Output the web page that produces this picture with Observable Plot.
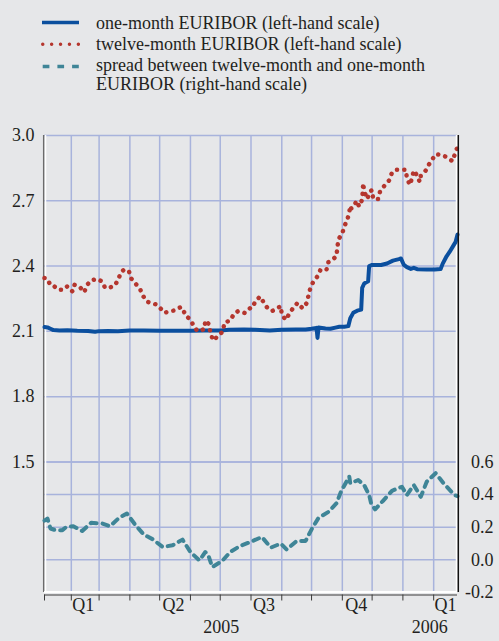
<!DOCTYPE html>
<html><head><meta charset="utf-8">
<script src="https://cdn.jsdelivr.net/npm/d3@7"></script>
<script src="https://cdn.jsdelivr.net/npm/@observablehq/plot@0.6"></script>
<style>
html,body{margin:0;padding:0;background:#e6e7e9;}
#chart{width:499px;height:641px;overflow:hidden;font-family:"Liberation Serif","Times New Roman","DejaVu Serif",serif;color:#231f20;}
svg{display:block;}
svg text{font-family:"Liberation Serif","Times New Roman","DejaVu Serif",serif !important;}
</style></head><body><div id="chart"></div>
<script>
// ---- data ----
const oneMonthDates = ["2005-01-05","2005-01-08","2005-01-11","2005-01-14","2005-01-20","2005-01-28","2005-02-07","2005-02-18","2005-02-25","2005-03-01","2005-03-10","2005-03-20","2005-04-01","2005-04-15","2005-05-01","2005-05-15","2005-06-01","2005-06-15","2005-07-01","2005-07-10","2005-07-25","2005-08-05","2005-08-20","2005-09-01","2005-09-15","2005-09-25","2005-10-01","2005-10-06","2005-10-07","2005-10-08","2005-10-15","2005-10-20","2005-10-25","2005-10-29","2005-11-03","2005-11-07","2005-11-09","2005-11-12","2005-11-16","2005-11-20","2005-11-21","2005-11-23","2005-11-27","2005-11-28","2005-12-01","2005-12-10","2005-12-16","2005-12-22","2005-12-28","2005-12-30","2006-01-02","2006-01-05","2006-01-09","2006-01-12","2006-01-16","2006-01-25","2006-02-02","2006-02-08","2006-02-10","2006-02-14","2006-02-17","2006-02-21","2006-02-23","2006-02-25"];
const oneMonthValues = [2.12,2.118,2.112,2.106,2.104,2.105,2.103,2.102,2.098,2.101,2.102,2.101,2.104,2.104,2.103,2.103,2.103,2.104,2.104,2.107,2.108,2.107,2.104,2.107,2.108,2.109,2.112,2.116,2.07,2.118,2.113,2.112,2.117,2.121,2.121,2.124,2.16,2.185,2.195,2.2,2.3,2.32,2.33,2.4,2.405,2.405,2.412,2.425,2.432,2.435,2.405,2.395,2.387,2.392,2.385,2.384,2.384,2.386,2.41,2.445,2.465,2.495,2.51,2.545];

const twelveMonthDates = ["2005-01-05","2005-01-07","2005-01-11","2005-01-13","2005-01-15","2005-01-19","2005-01-24","2005-01-28","2005-02-02","2005-02-04","2005-02-09","2005-02-14","2005-02-17","2005-02-21","2005-02-27","2005-03-04","2005-03-07","2005-03-10","2005-03-16","2005-03-20","2005-03-23","2005-03-26","2005-03-31","2005-04-02","2005-04-06","2005-04-11","2005-04-14","2005-04-18","2005-04-22","2005-04-28","2005-05-03","2005-05-06","2005-05-11","2005-05-16","2005-05-22","2005-05-24","2005-05-27","2005-06-01","2005-06-04","2005-06-08","2005-06-15","2005-06-16","2005-06-20","2005-06-21","2005-06-24","2005-06-29","2005-07-04","2005-07-05","2005-07-11","2005-07-15","2005-07-19","2005-07-26","2005-07-31","2005-08-02","2005-08-05","2005-08-10","2005-08-13","2005-08-17","2005-08-22","2005-08-27","2005-08-31","2005-09-01","2005-09-05","2005-09-09","2005-09-13","2005-09-17","2005-09-22","2005-09-26","2005-09-28","2005-09-30","2005-10-03","2005-10-07","2005-10-10","2005-10-16","2005-10-18","2005-10-22","2005-10-26","2005-10-27","2005-10-28","2005-11-01","2005-11-03","2005-11-06","2005-11-08","2005-11-09","2005-11-10","2005-11-13","2005-11-15","2005-11-18","2005-11-21","2005-11-22","2005-11-23","2005-11-26","2005-11-29","2005-12-01","2005-12-02","2005-12-07","2005-12-09","2005-12-13","2005-12-18","2005-12-21","2005-12-25","2006-01-01","2006-01-04","2006-01-05","2006-01-08","2006-01-10","2006-01-12","2006-01-15","2006-01-18","2006-01-19","2006-01-24","2006-01-27","2006-01-31","2006-02-03","2006-02-10","2006-02-15","2006-02-20","2006-02-22","2006-02-25"];
const twelveMonthValues = [2.345,2.344,2.314,2.314,2.306,2.291,2.291,2.307,2.284,2.314,2.307,2.28,2.314,2.334,2.341,2.329,2.3,2.3,2.307,2.334,2.372,2.383,2.378,2.345,2.323,2.297,2.265,2.237,2.231,2.223,2.2,2.185,2.193,2.196,2.211,2.208,2.173,2.154,2.127,2.101,2.11,2.15,2.131,2.093,2.058,2.08,2.101,2.139,2.15,2.181,2.193,2.184,2.206,2.206,2.234,2.26,2.239,2.211,2.193,2.204,2.216,2.177,2.153,2.184,2.211,2.231,2.206,2.229,2.266,2.303,2.33,2.353,2.383,2.383,2.418,2.429,2.445,2.484,2.522,2.551,2.583,2.612,2.649,2.677,2.665,2.674,2.7,2.674,2.706,2.781,2.744,2.709,2.744,2.749,2.709,2.708,2.743,2.767,2.793,2.829,2.843,2.843,2.843,2.805,2.773,2.802,2.839,2.818,2.787,2.815,2.839,2.865,2.893,2.914,2.91,2.898,2.882,2.91,2.948];

const spreadDates = ["2005-01-05","2005-01-08","2005-01-11","2005-01-16","2005-01-23","2005-01-27","2005-02-03","2005-02-12","2005-02-21","2005-03-04","2005-03-12","2005-03-21","2005-03-29","2005-04-06","2005-04-15","2005-04-24","2005-05-04","2005-05-14","2005-05-24","2005-06-01","2005-06-10","2005-06-16","2005-06-19","2005-06-23","2005-07-03","2005-07-11","2005-07-21","2005-07-30","2005-08-02","2005-08-12","2005-08-21","2005-08-31","2005-09-06","2005-09-16","2005-09-25","2005-10-02","2005-10-08","2005-10-18","2005-10-26","2005-10-31","2005-11-08","2005-11-09","2005-11-17","2005-11-23","2005-11-28","2005-11-30","2005-12-04","2005-12-12","2005-12-21","2005-12-31","2006-01-05","2006-01-12","2006-01-19","2006-01-25","2006-02-03","2006-02-11","2006-02-22","2006-02-25"];
const spreadValues = [0.24,0.253,0.192,0.182,0.182,0.202,0.206,0.177,0.227,0.223,0.206,0.257,0.284,0.218,0.155,0.126,0.079,0.089,0.124,0.048,-0.003,0.048,0.028,-0.044,-0.007,0.048,0.085,0.106,0.114,0.14,0.075,0.1,0.063,0.116,0.116,0.198,0.257,0.294,0.346,0.423,0.51,0.469,0.489,0.458,0.397,0.346,0.309,0.362,0.423,0.448,0.397,0.458,0.386,0.479,0.531,0.469,0.397,0.39];

const leftTicks = [1.5, 1.8, 2.1, 2.4, 2.7, 3.0];
const rightTicks = [-0.2, 0.0, 0.2, 0.4, 0.6];
const monthStarts = ["2005-02-01","2005-03-01","2005-04-01","2005-05-01","2005-06-01","2005-07-01","2005-08-01","2005-09-01","2005-10-01","2005-11-01","2005-12-01","2006-01-01","2006-02-01"];
const quarterLabels = ["Q1","Q2","Q3","Q4","Q1"];
const quarterDates = ["2005-02-13","2005-05-15","2005-08-14","2005-11-15","2006-02-13"];
const yearLabels = ["2005","2006"];
const yearDates = ["2005-07-02","2006-01-28"];
const xDomain = ["2005-01-05","2006-02-25"];
const yDomain = [0.9, 3.0];

const legendLabels = [
  ["one-month EURIBOR (left-hand scale)"],
  ["twelve-month EURIBOR (left-hand scale)"],
  ["spread between twelve-month and one-month", "EURIBOR (right-hand scale)"]
];

// ---- helpers ----
const P = d3.isoParse;
const FONT = '"Liberation Serif","Times New Roman","DejaVu Serif",serif';
const BLUE = "#0b4f9e", RED = "#b5362e", TEAL = "#3f8597", GRID = "#a8b3dc", BG = "#e6e7e9", INK = "#231f20";
const toLeft = r => yDomain[0] + (r - rightTicks[0]) * 0.75;  // right-hand scale -> left-hand scale

const oneMonth = oneMonthDates.map((d, i) => ({date: P(d), value: oneMonthValues[i]}));
const twelveMonth = twelveMonthDates.map((d, i) => ({date: P(d), value: twelveMonthValues[i]}));
const spread = spreadDates.map((d, i) => ({date: P(d), value: spreadValues[i]}));
const months = monthStarts.map(P);
const quarters = quarterDates.map((d, i) => ({date: P(d), label: quarterLabels[i]}));
const years = yearDates.map((d, i) => ({date: P(d), label: yearLabels[i]}));
const xd = xDomain.map(P);

const root = d3.select("#chart");

// ---- legend ----
const LH = 100;
const leg = root.append("svg").attr("width", 499).attr("height", LH)
  .style("font-family", FONT).style("font-size", "18px");
leg.append("line").attr("x1", 42).attr("x2", 79).attr("y1", 22.5).attr("y2", 22.5)
  .attr("stroke", BLUE).attr("stroke-width", 3.5);
leg.append("line").attr("x1", 42.7).attr("x2", 79).attr("y1", 44.3).attr("y2", 44.3)
  .attr("stroke", RED).attr("stroke-width", 3.4).attr("stroke-linecap", "round").attr("stroke-dasharray", "0.1,8.8");
leg.append("line").attr("x1", 42.7).attr("x2", 80).attr("y1", 66.5).attr("y2", 66.5)
  .attr("stroke", TEAL).attr("stroke-width", 3.4).attr("stroke-dasharray", "6.7,8");
const baselines = [[28.5], [50], [70.5, 89.5]];
legendLabels.forEach((lines, i) => lines.forEach((t, j) => {
  leg.append("text").attr("x", 96).attr("y", baselines[i][j]).attr("fill", INK)
    .attr("font-family", FONT).attr("font-size", 18).text(t);
}));

// ---- chart ----
const chart = Plot.plot({
  width: 499,
  height: 641 - LH,
  marginTop: 35,
  marginBottom: 49,
  marginLeft: 44,
  marginRight: 42,
  style: {background: BG, fontFamily: FONT, fontSize: "18px", color: INK, overflow: "visible"},
  x: {type: "utc", domain: xd},
  y: {domain: yDomain},
  marks: [
    // grid
    Plot.ruleY([...leftTicks, ...rightTicks.slice(1).map(toLeft)], {stroke: GRID, strokeWidth: 1.5}),
    Plot.ruleX(months, {stroke: GRID, strokeWidth: 1.5}),
    // frame
    Plot.ruleX([xd[0]], {stroke: "#6b6b6b", strokeWidth: 1.5, dx: -0.8}),
    Plot.ruleX([xd[0]], {stroke: "#ffffff", strokeWidth: 1.5, dx: 1}),
    Plot.ruleX([xd[1]], {stroke: "#ffffff", strokeWidth: 1.5, dx: -1}),
    Plot.ruleY([yDomain[0]], {stroke: "#ffffff", strokeWidth: 2.2, dy: -0.5}),
    Plot.ruleY([yDomain[0]], {stroke: "#3a3a3a", strokeWidth: 1, dy: 2.5}),
    Plot.axisX([xd[0], ...months], {tickSize: 6, tickFormat: () => "", label: null, stroke: "#3a3a3a", strokeWidth: 1, dy: 2.5}),
    // series
    Plot.line(spread, {x: "date", y: d => toLeft(d.value), stroke: TEAL, strokeWidth: 4, strokeDasharray: "6,6"}),
    Plot.line(oneMonth, {x: "date", y: "value", stroke: BLUE, strokeWidth: 4, strokeLinejoin: "round"}),
    Plot.line(twelveMonth, {x: "date", y: "value", stroke: RED, strokeWidth: 4.5, strokeDasharray: "0.1,7.2", strokeLinecap: "round"}),
    // right black edge
    Plot.ruleX([xd[1]], {stroke: "#111111", strokeWidth: 1.5, dx: 0.8, y1: yDomain[1], y2: yDomain[0]}),
    // axes
    Plot.axisY(leftTicks, {anchor: "left", label: null, tickSize: 0, tickPadding: 10, tickFormat: d => d.toFixed(1), fill: INK}),
    Plot.text(rightTicks, {y: toLeft, text: d => d.toFixed(1), frameAnchor: "right", textAnchor: "end", dx: 36, fill: INK}),
    Plot.text(quarters, {x: "date", text: "label", frameAnchor: "bottom", dy: 18, fill: INK}),
    Plot.text(years, {x: "date", text: "label", frameAnchor: "bottom", dy: 40, fill: INK})
  ]
});
root.node().appendChild(chart);
</script></body></html>
